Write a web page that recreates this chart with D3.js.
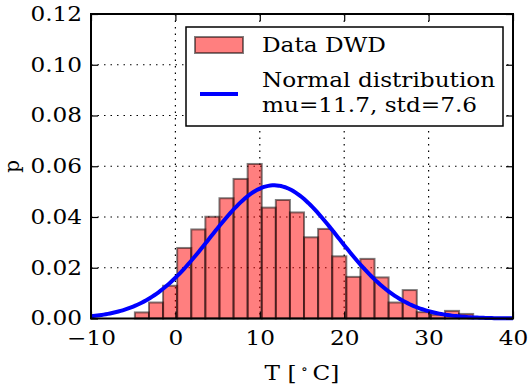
<!DOCTYPE html>
<html><head><meta charset="utf-8">
<script src="https://cdn.jsdelivr.net/npm/d3@7"></script>
<style>
html,body{margin:0;padding:0;background:#fff;}
text{font-family:"DejaVu Serif",serif;fill:#000;}
</style></head>
<body><svg id="c" width="529" height="387"></svg>
<script>
const binStart = -4.8;
const binWidth = 1.67;
const density = [0.0024, 0.0063, 0.0129, 0.0278, 0.0351, 0.0401, 0.0474, 0.0550, 0.0609, 0.0437, 0.0467, 0.0418,
                 0.0320, 0.0353, 0.0245, 0.0164, 0.0235, 0.0162, 0.0063, 0.0112, 0.0025, 0.0015, 0.0030, 0.0018];
const mu = 11.7, std = 7.6;
const xTicks = [-10, 0, 10, 20, 30, 40];
const yTicks = [0, 0.02, 0.04, 0.06, 0.08, 0.10, 0.12];
const legendLabels = ["Data DWD", "Normal distribution", "mu=11.7, std=7.6"];

const svg = d3.select("#c");
const L = 91, R = 513, T = 14, B = 318.5;
const x = d3.scaleLinear().domain([-10, 40]).range([L, R]);
const y = d3.scaleLinear().domain([0, 0.12]).range([B, T]);
const fs = 20;
const sx = 1.16;

// grid
const g = svg.append("g");
g.selectAll(".gx").data(xTicks.slice(1, -1)).enter().append("line")
  .attr("x1", d => x(d)).attr("x2", d => x(d)).attr("y1", T).attr("y2", B)
  .attr("stroke", "#000").attr("stroke-width", 1.2).attr("stroke-dasharray", "1.5,5");
g.selectAll(".gy").data(yTicks.slice(1, -1)).enter().append("line")
  .attr("y1", d => y(d)).attr("y2", d => y(d)).attr("x1", L).attr("x2", R)
  .attr("stroke", "#000").attr("stroke-width", 1.2).attr("stroke-dasharray", "1.5,5");

// bars
svg.append("g").selectAll("rect").data(density).enter().append("rect")
  .attr("x", (d, i) => x(binStart + i * binWidth))
  .attr("width", (d, i) => x(binStart + (i + 1) * binWidth) - x(binStart + i * binWidth))
  .attr("y", d => y(d)).attr("height", d => B - y(d))
  .attr("fill", "red").attr("fill-opacity", 0.5)
  .attr("stroke", "#000").attr("stroke-opacity", 0.5).attr("stroke-width", 2);

// normal curve
const xs = d3.range(-10, 40.001, 0.25);
const pdf = v => Math.exp(-0.5 * ((v - mu) / std) ** 2) / (std * Math.sqrt(2 * Math.PI));
svg.append("path").datum(xs)
  .attr("d", d3.line().x(d => x(d)).y(d => y(pdf(d))))
  .attr("fill", "none").attr("stroke", "#0000ff").attr("stroke-width", 4);

// axes with inside ticks
const tl = 7;
const fmt = d3.format(".2f");
const ax = svg.append("g").attr("transform", `translate(0,${B})`)
  .call(d3.axisBottom(x).tickValues(xTicks).tickSize(-tl).tickPadding(12).tickFormat(d => d < 0 ? "\u2212" + Math.abs(d) : d));
const ay = svg.append("g").attr("transform", `translate(${L},0)`)
  .call(d3.axisLeft(y).tickValues(yTicks).tickSize(-tl).tickPadding(9).tickFormat(fmt));
const at = svg.append("g").attr("transform", `translate(0,${T})`)
  .call(d3.axisTop(x).tickValues(xTicks).tickSize(-tl).tickFormat(""));
const ar = svg.append("g").attr("transform", `translate(${R},0)`)
  .call(d3.axisRight(y).tickValues(yTicks).tickSize(-tl).tickFormat(""));
[ax, ay, at, ar].forEach(a => {
  a.select(".domain").remove();
  a.selectAll(".tick line").attr("stroke", "#000").attr("stroke-width", 1.2);
  a.selectAll("text").style("font-family", "DejaVu Serif").style("font-size", fs + "px").attr("fill", "#000")
    .each(function () {
      const t = d3.select(this);
      const ox = +t.attr("x") || 0;
      t.attr("x", ox / sx).attr("transform", `scale(${sx},1)`);
    });
});
svg.append("rect").attr("x", L).attr("y", T).attr("width", R - L).attr("height", B - T)
  .attr("fill", "none").attr("stroke", "#000").attr("stroke-width", 2);

// axis labels
svg.append("text").attr("x", (L + R) / 2 / sx).attr("y", 380).attr("transform", `scale(${sx},1)`)
  .attr("text-anchor", "middle").style("font-size", fs + "px")
  .html('T [\u2009<tspan dy="-7" font-size="12">∘</tspan><tspan dy="7">\u2009C]</tspan>');
svg.append("text").attr("transform", `translate(19,${(T + B) / 2}) rotate(-90)`)
  .attr("text-anchor", "middle").style("font-size", fs + "px").text("p");

// legend
const lg = svg.append("g");
lg.append("rect").attr("x", 186).attr("y", 27).attr("width", 317).attr("height", 99)
  .attr("fill", "#fff").attr("stroke", "#000").attr("stroke-width", 1.5);
lg.append("rect").attr("x", 195).attr("y", 37).attr("width", 48).attr("height", 16)
  .attr("fill", "red").attr("fill-opacity", 0.5).attr("stroke", "#000").attr("stroke-opacity", 0.5).attr("stroke-width", 2);
lg.append("line").attr("x1", 200).attr("x2", 238).attr("y1", 94).attr("y2", 94)
  .attr("stroke", "#0000ff").attr("stroke-width", 4);
lg.selectAll("text").data(legendLabels).enter().append("text")
  .attr("x", 262 / sx).attr("y", (d, i) => [52, 87, 112][i]).attr("transform", `scale(${sx},1)`)
  .style("font-size", fs + "px").text(d => d);
</script></body></html>
